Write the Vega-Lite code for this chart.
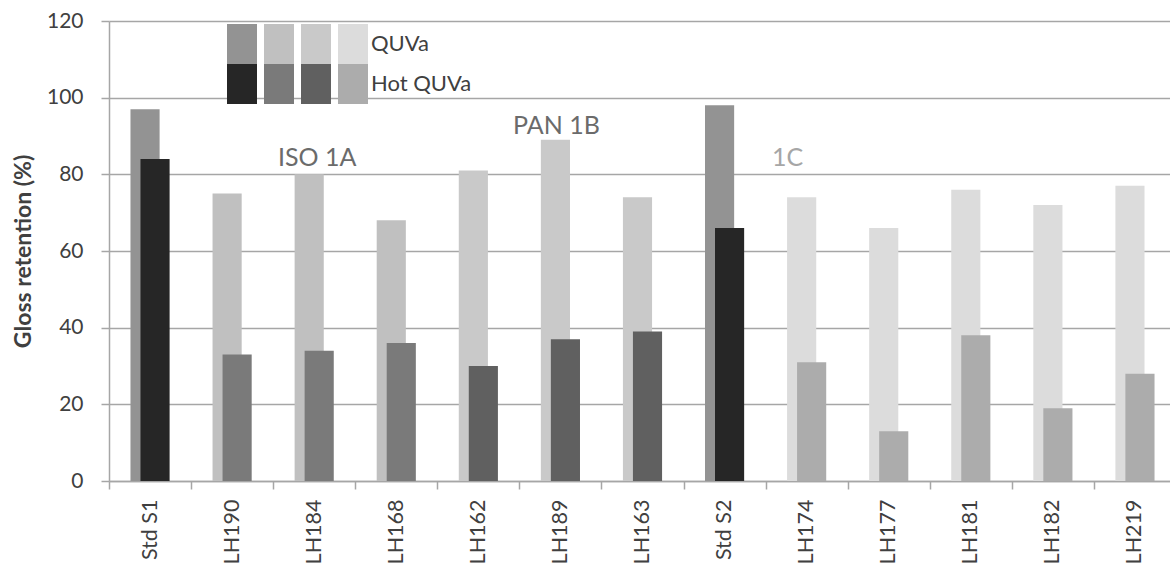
{
  "$schema": "https://vega.github.io/schema/vega-lite/v6.json",
  "width": 1061,
  "height": 460,
  "autosize": {"type": "none"},
  "padding": {"left": 109, "top": 21, "right": 0, "bottom": 84},
  "background": "white",
  "config": {
    "font": "Lato",
    "view": {"stroke": null},
    "axis": {
      "domainColor": "#a6a6a6",
      "domainWidth": 1.5,
      "tickColor": "#a6a6a6",
      "tickWidth": 1.5,
      "tickSize": 8,
      "labelFont": "Lato",
      "labelFontSize": 21,
      "labelColor": "#404040",
      "gridColor": "#a6a6a6",
      "gridWidth": 1.5
    }
  },
  "datasets": {
    "bars": [
      {"sample": "Std S1", "series": "QUVa", "key": "Std|QUVa", "value": 97},
      {"sample": "Std S1", "series": "Hot QUVa", "key": "Std|Hot QUVa", "value": 84},
      {"sample": "LH190", "series": "QUVa", "key": "1A|QUVa", "value": 75},
      {"sample": "LH190", "series": "Hot QUVa", "key": "1A|Hot QUVa", "value": 33},
      {"sample": "LH184", "series": "QUVa", "key": "1A|QUVa", "value": 80},
      {"sample": "LH184", "series": "Hot QUVa", "key": "1A|Hot QUVa", "value": 34},
      {"sample": "LH168", "series": "QUVa", "key": "1A|QUVa", "value": 68},
      {"sample": "LH168", "series": "Hot QUVa", "key": "1A|Hot QUVa", "value": 36},
      {"sample": "LH162", "series": "QUVa", "key": "1B|QUVa", "value": 81},
      {"sample": "LH162", "series": "Hot QUVa", "key": "1B|Hot QUVa", "value": 30},
      {"sample": "LH189", "series": "QUVa", "key": "1B|QUVa", "value": 89},
      {"sample": "LH189", "series": "Hot QUVa", "key": "1B|Hot QUVa", "value": 37},
      {"sample": "LH163", "series": "QUVa", "key": "1B|QUVa", "value": 74},
      {"sample": "LH163", "series": "Hot QUVa", "key": "1B|Hot QUVa", "value": 39},
      {"sample": "Std S2", "series": "QUVa", "key": "Std|QUVa", "value": 98},
      {"sample": "Std S2", "series": "Hot QUVa", "key": "Std|Hot QUVa", "value": 66},
      {"sample": "LH174", "series": "QUVa", "key": "1C|QUVa", "value": 74},
      {"sample": "LH174", "series": "Hot QUVa", "key": "1C|Hot QUVa", "value": 31},
      {"sample": "LH177", "series": "QUVa", "key": "1C|QUVa", "value": 66},
      {"sample": "LH177", "series": "Hot QUVa", "key": "1C|Hot QUVa", "value": 13},
      {"sample": "LH181", "series": "QUVa", "key": "1C|QUVa", "value": 76},
      {"sample": "LH181", "series": "Hot QUVa", "key": "1C|Hot QUVa", "value": 38},
      {"sample": "LH182", "series": "QUVa", "key": "1C|QUVa", "value": 72},
      {"sample": "LH182", "series": "Hot QUVa", "key": "1C|Hot QUVa", "value": 19},
      {"sample": "LH219", "series": "QUVa", "key": "1C|QUVa", "value": 77},
      {"sample": "LH219", "series": "Hot QUVa", "key": "1C|Hot QUVa", "value": 28}
    ],
    "notes": [
      {"sample": "LH184", "label": "ISO 1A", "value": 82.2},
      {"sample": "LH189", "label": "PAN 1B", "value": 90.5},
      {"sample": "LH174", "label": "1C", "value": 82.2}
    ]
  },
  "encoding": {
    "x": {
      "field": "sample",
      "type": "nominal",
      "scale": {
        "domain": ["Std S1", "LH190", "LH184", "LH168", "LH162", "LH189", "LH163", "Std S2", "LH174", "LH177", "LH181", "LH182", "LH219"],
        "range": [0, 1067],
        "paddingInner": 0,
        "paddingOuter": 0
      },
      "axis": {
        "title": null,
        "labelAngle": 270,
        "labelPadding": 10,
        "labelFontSize": 21.5,
        "tickBand": "extent",
        "grid": false
      }
    },
    "y": {
      "field": "value",
      "type": "quantitative",
      "scale": {"domain": [0, 120], "nice": false, "zero": true},
      "axis": {
        "values": [0, 20, 40, 60, 80, 100, 120],
        "grid": true,
        "labelPadding": 18,
        "title": "Gloss retention (%)",
        "titleFont": "Lato",
        "titleFontSize": 23,
        "titleFontWeight": "bold",
        "titleColor": "#404040",
        "titlePadding": 11
      }
    }
  },
  "layer": [
    {
      "data": {"name": "bars"},
      "transform": [{"filter": "datum.series == 'QUVa'"}],
      "mark": {"type": "bar", "width": {"band": 0.355}, "xOffset": -5},
      "encoding": {
        "fill": {
          "field": "key",
          "type": "nominal",
          "scale": {
            "domain": ["Std|QUVa", "1A|QUVa", "1B|QUVa", "1C|QUVa", "Std|Hot QUVa", "1A|Hot QUVa", "1B|Hot QUVa", "1C|Hot QUVa"],
            "range": ["#939393", "#c0c0c0", "#c9c9c9", "#dcdcdc", "#262626", "#7a7a7a", "#606060", "#acacac"]
          },
          "legend": {
            "orient": "none",
            "legendX": 118,
            "legendY": 8,
            "columns": 4,
            "direction": "horizontal",
            "title": null,
            "padding": 0,
            "symbolType": "M-1,-1.333H1V1.333H-1Z",
            "symbolSize": 900,
            "symbolStrokeWidth": 0,
            "symbolOpacity": 1,
            "labelFont": "Lato",
            "labelFontSize": 22,
            "labelColor": "#404040",
            "labelOffset": 3,
            "columnPadding": 4,
            "rowPadding": 0,
            "labelExpr": "datum.value == '1C|QUVa' ? 'QUVa' : datum.value == '1C|Hot QUVa' ? 'Hot QUVa' : ''"
          }
        }
      }
    },
    {
      "data": {"name": "bars"},
      "transform": [{"filter": "datum.series == 'Hot QUVa'"}],
      "mark": {"type": "bar", "width": {"band": 0.355}, "xOffset": 5},
      "encoding": {
        "fill": {"field": "key", "type": "nominal"}
      }
    },
    {
      "data": {"name": "notes"},
      "mark": {
        "type": "text",
        "font": "Lato",
        "fontSize": 25,
        "align": "center",
        "baseline": "alphabetic",
        "dx": {"expr": "datum.label == '1C' ? -19 : datum.label == 'PAN 1B' ? -4 : 3"}
      },
      "encoding": {
        "text": {"field": "label"},
        "color": {
          "condition": {"test": "datum.label == '1C'", "value": "#a6a6a6"},
          "value": "#6b6b6b"
        }
      }
    }
  ]
}
